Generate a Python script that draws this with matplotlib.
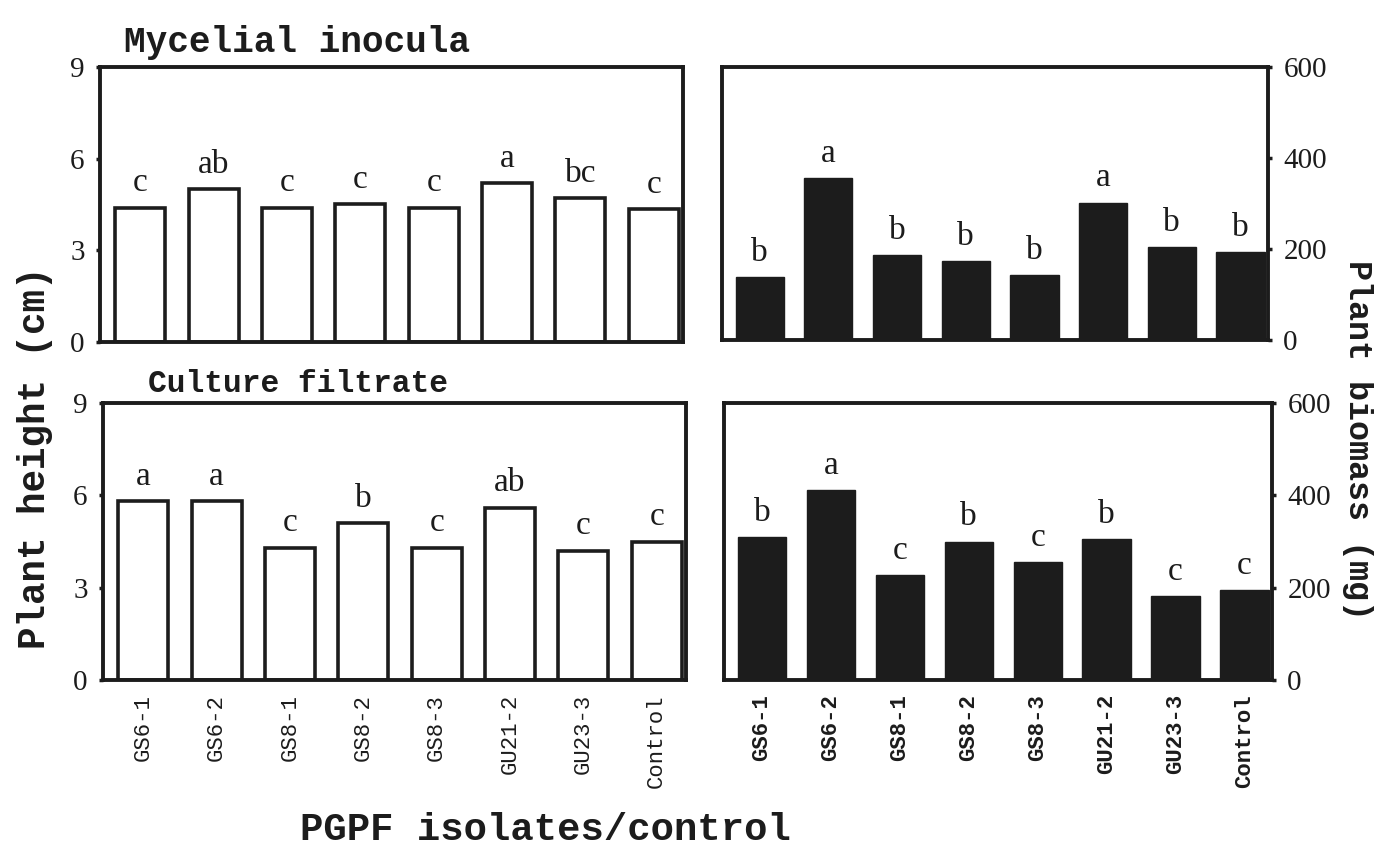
import matplotlib
matplotlib.use('Agg')
import matplotlib.pyplot as plt

isolates = ['GS6-1', 'GS6-2', 'GS8-1', 'GS8-2', 'GS8-3', 'GU21-2', 'GU23-3', 'Control']

height_mycelial = [4.4, 5.0, 4.4, 4.5, 4.4, 5.2, 4.7, 4.35]
height_mycelial_letters = ['c', 'ab', 'c', 'c', 'c', 'a', 'bc', 'c']

biomass_mycelial = [138, 355, 186, 174, 142, 302, 204, 194]
biomass_mycelial_letters = ['b', 'a', 'b', 'b', 'b', 'a', 'b', 'b']

height_filtrate = [5.8, 5.8, 4.3, 5.1, 4.3, 5.6, 4.2, 4.5]
height_filtrate_letters = ['a', 'a', 'c', 'b', 'c', 'ab', 'c', 'c']

biomass_filtrate = [310, 412, 228, 300, 256, 305, 181, 194]
biomass_filtrate_letters = ['b', 'a', 'c', 'b', 'c', 'b', 'c', 'c']

serif = 'Liberation Serif'
mono = 'Liberation Mono'
ink = '#1c1c1c'
W, H = 1388, 847

fig = plt.figure(figsize=(13.88, 8.47), dpi=100)


def box(l, t, r, b):
    return fig.add_axes([l / W, 1 - b / H, (r - l) / W, (b - t) / H])


def panel(ax, vals, letters, ymax, ticks, filled, right, offset, xlabels, bold_x):
    x = range(len(vals))
    if filled:
        ax.bar(x, vals, width=0.7, color=ink, edgecolor=ink, linewidth=1)
    else:
        ax.bar(x, vals, width=0.68, color='white', edgecolor=ink, linewidth=2.6)
    for i, (v, s) in enumerate(zip(vals, letters)):
        ax.text(i, v + offset, s, ha='center', va='bottom', fontsize=24, family=serif, color=ink)
    ax.set_xlim(-0.55, 7.4)
    ax.set_ylim(0, ymax)
    for sp in ax.spines.values():
        sp.set_linewidth(2.8)
        sp.set_color(ink)
    ax.set_yticks(ticks)
    ax.set_yticklabels([str(t) for t in ticks], family=serif, fontsize=21, color=ink)
    if right:
        ax.yaxis.tick_right()
    ax.tick_params(axis='y', direction='out', length=3, width=2.5, pad=8, color=ink)
    ax.tick_params(axis='x', length=0, pad=10)
    if xlabels:
        ax.set_xticks(list(x))
        ax.set_xticklabels(isolates, rotation=90, family=mono, fontsize=16, color=ink,
                           fontweight='bold' if bold_x else 'normal')
    else:
        ax.set_xticks([])


ax1 = box(100, 67, 683, 342)
panel(ax1, height_mycelial, height_mycelial_letters, 9, [0, 3, 6, 9], False, False, 0.3, False, False)

ax2 = box(722, 67, 1268, 340)
panel(ax2, biomass_mycelial, biomass_mycelial_letters, 600, [0, 200, 400, 600], True, True, 20, False, False)

ax3 = box(103, 403, 686, 680)
panel(ax3, height_filtrate, height_filtrate_letters, 9, [0, 3, 6, 9], False, False, 0.3, True, False)

ax4 = box(724, 403, 1272, 680)
panel(ax4, biomass_filtrate, biomass_filtrate_letters, 600, [0, 200, 400, 600], True, True, 20, True, True)

fig.text(124 / W, 1 - 42 / H, 'Mycelial inocula', family=mono, fontweight='bold', fontsize=26,
         va='center', ha='left', color=ink)
fig.text(148 / W, 1 - 384 / H, 'Culture filtrate', family=mono, fontweight='bold', fontsize=22.5,
         va='center', ha='left', color=ink)
fig.text(35 / W, 1 - 458 / H, 'Plant height (cm)', family=mono, fontweight='bold', fontsize=27,
         rotation=90, va='center', ha='center', color=ink)
fig.text(1358 / W, 1 - 440 / H, 'Plant biomass (mg)', family=mono, fontweight='bold', fontsize=24,
         rotation=-90, va='center', ha='center', color=ink)
fig.text(545 / W, 1 - 830 / H, 'PGPF isolates/control', family=mono, fontweight='bold', fontsize=28,
         va='center', ha='center', color=ink)

fig.savefig('out.png', dpi=100)
